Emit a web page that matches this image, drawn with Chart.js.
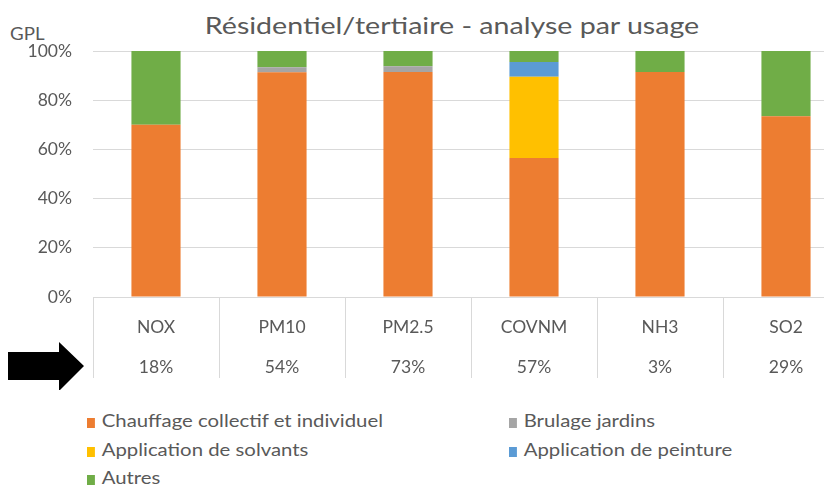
<!DOCTYPE html>
<html lang="fr">
<head>
<meta charset="utf-8">
<title>Résidentiel/tertiaire - analyse par usage</title>
<script src="https://cdn.jsdelivr.net/npm/chart.js@4"></script>
<style>
  html, body { margin: 0; padding: 0; background: #fff; }
  body { width: 824px; height: 490px; overflow: hidden; position: relative; font-family: Lato, "Open Sans", sans-serif; color: #595959; }
  #chartBox { position: absolute; left: 0; top: 0; width: 850px; height: 390px; }
  .title { position: absolute; left: 152px; width: 600px; top: 10px; text-align: center; font-size: 24px; color: #595959; transform: scaleX(1.19); transform-origin: 300px 0; }
  .unit { position: absolute; left: 10px; top: 23px; font-size: 17px; color: #595959; transform: scaleX(1.1); transform-origin: 0 0; }
  .legend { position: absolute; left: 0; top: 0; width: 824px; }
  .legend-item { position: absolute; font-size: 18px; white-space: nowrap; line-height: 20px; transform: scaleX(1.13); transform-origin: 0 0; }
  .legend-item i { display: inline-block; width: 7px; height: 10px; margin-right: 6px; vertical-align: -1px; }
</style>
</head>
<body>
<div class="title">Résidentiel/tertiaire - analyse par usage</div>
<div class="unit">GPL</div>
<div id="chartBox"><canvas id="usageChart" width="850" height="390"></canvas></div>
<div class="legend" id="legend"></div>

<script>
// Polluants et part du secteur résidentiel/tertiaire (ligne sous les noms)
const categories = ['NOX', 'PM10', 'PM2.5', 'COVNM', 'NH3', 'SO2'];
const shares = [18, 54, 73, 57, 3, 29];

// Répartition par usage, en % (empilée de bas en haut)
const chauffage = [70, 91.4, 91.5, 56.5, 91.5, 73.5];
const brulage   = [0, 2, 2.3, 0, 0, 0];
const solvants  = [0, 0, 0, 33, 0, 0];
const peinture  = [0, 0, 0, 6, 0, 0];
const autres    = [30, 6.6, 6.2, 4.5, 8.5, 26.5];

const yTicks = [0, 20, 40, 60, 80, 100];

const textGrey = '#595959';
const gridGrey = '#d9d9d9';
const fontFamily = 'Lato, "Open Sans", sans-serif';

const series = [
  { label: 'Chauffage collectif et individuel', data: chauffage, color: '#ed7d31' },
  { label: 'Brulage jardins', data: brulage, color: '#a5a5a5' },
  { label: 'Application de solvants', data: solvants, color: '#ffc000' },
  { label: 'Application de peinture', data: peinture, color: '#5b9bd5' },
  { label: 'Autres', data: autres, color: '#70ad47' },
];

// Flèche noire pointant la ligne des parts
const arrowPlugin = {
  id: 'arrow',
  afterDraw(chart) {
    const ctx = chart.ctx;
    ctx.save();
    ctx.fillStyle = '#000';
    ctx.beginPath();
    ctx.moveTo(8, 352);
    ctx.lineTo(59, 352);
    ctx.lineTo(59, 342);
    ctx.lineTo(84, 366);
    ctx.lineTo(59, 391);
    ctx.lineTo(59, 380);
    ctx.lineTo(8, 380);
    ctx.closePath();
    ctx.fill();
    ctx.restore();
  }
};

const chart = new Chart(document.getElementById('usageChart'), {
  type: 'bar',
  data: {
    labels: categories.map((c, i) => [c, shares[i] + '%']),
    datasets: series.map(s => ({
      label: s.label,
      data: s.data,
      backgroundColor: s.color,
      borderWidth: 0,
      barPercentage: 0.39,
      categoryPercentage: 1,
    }))
  },
  options: {
    responsive: false,
    animation: false,
    layout: { padding: { top: 51, bottom: 12, left: 0, right: 1 } },
    plugins: { legend: { display: false }, tooltip: { enabled: false } },
    scales: {
      x: {
        stacked: true,
        border: { display: false },
        grid: {
          offset: true,
          drawOnChartArea: false,
          drawTicks: true,
          tickLength: 81,
          color: gridGrey,
        },
        ticks: {
          color: textGrey,
          padding: -71,
          font: { family: fontFamily, size: 17.5, lineHeight: '40px' },
        },
        afterFit(scale) { scale.height = 81; }
      },
      y: {
        stacked: true,
        min: 0,
        max: 100,
        border: { display: false },
        grid: { color: gridGrey, drawTicks: false },
        afterBuildTicks(scale) { scale.ticks = yTicks.map(v => ({ value: v })); },
        ticks: {
          color: textGrey,
          padding: 21,
          font: { family: fontFamily, size: 17.5 },
          callback: v => v + '%',
        },
        afterFit(scale) { scale.width = 93; }
      }
    }
  },
  plugins: [arrowPlugin]
});

// Légende sur deux colonnes
const legendPos = [
  { left: 87, top: 410 },
  { left: 509, top: 410 },
  { left: 87, top: 439 },
  { left: 509, top: 439 },
  { left: 87, top: 467 },
];
const legendEl = document.getElementById('legend');
chart.data.datasets.forEach((ds, i) => {
  const item = document.createElement('div');
  item.className = 'legend-item';
  item.style.left = legendPos[i].left + 'px';
  item.style.top = legendPos[i].top + 'px';
  item.innerHTML = '<i style="background:' + ds.backgroundColor + '"></i>' + ds.label;
  legendEl.appendChild(item);
});
</script>
</body>
</html>
